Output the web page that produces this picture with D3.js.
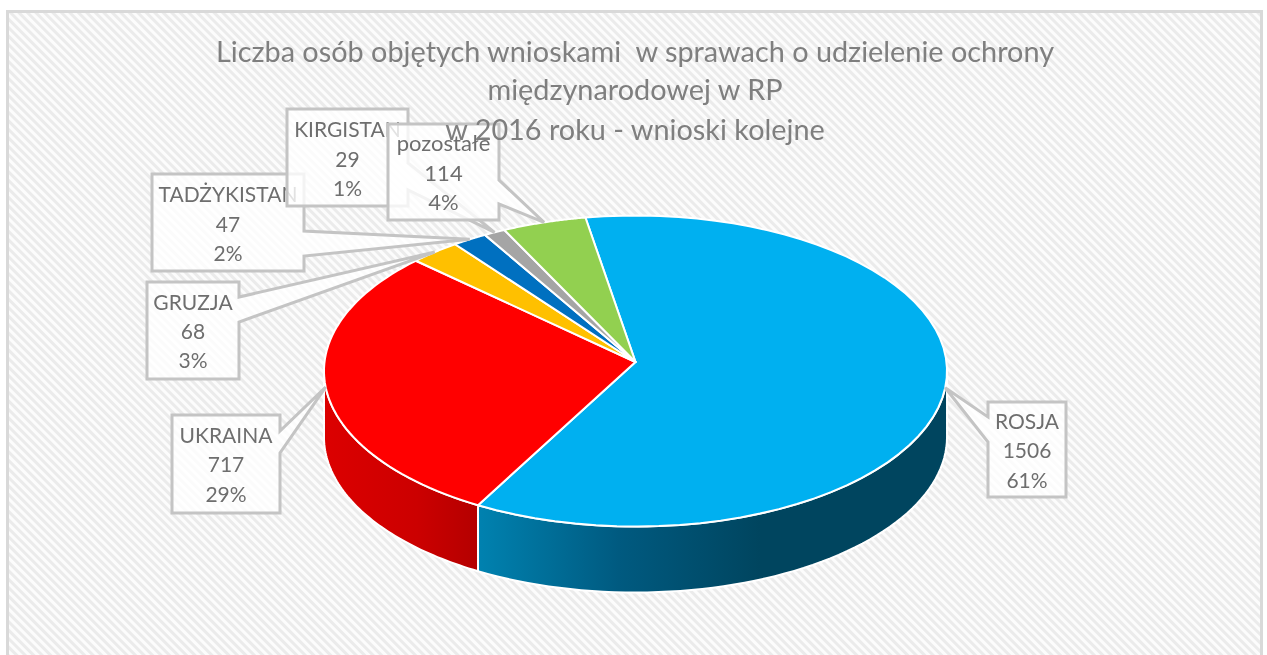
<!DOCTYPE html>
<html><head><meta charset="utf-8">
<script src="https://cdn.jsdelivr.net/npm/d3@7"></script>
<style>html,body{margin:0;padding:0;background:#fff;overflow:hidden}svg{display:block}text{font-family:Lato,"Open Sans",sans-serif}</style>
</head><body><svg id="c" width="1267" height="655"></svg>
<script>
const categories = ["ROSJA","UKRAINA","GRUZJA","TADŻYKISTAN","KIRGISTAN","pozostałe"];
const values = [1506,717,68,47,29,114];
const percents = ["61%","29%","3%","2%","1%","4%"];
const topColors = ["#00b0f0","#ff0000","#ffc000","#0070c0","#a5a5a5","#92d050"];
const titleLines = ["Liczba osób objętych wnioskami  w sprawach o udzielenie ochrony","międzynarodowej w RP","w 2016 roku - wnioski kolejne"];

const W=1267,H=655;
const svg=d3.select("#c");
const defs=svg.append("defs");
const pat=defs.append("pattern").attr("id","hatch").attr("patternUnits","userSpaceOnUse").attr("width",6).attr("height",6).attr("patternTransform","rotate(45)");
pat.append("rect").attr("width",6).attr("height",6).attr("fill","#fcfcfc");
pat.append("rect").attr("width",6).attr("height",3).attr("fill","#ebebeb");
const soft=defs.append("filter").attr("id","soft").attr("x","-5%").attr("y","-5%").attr("width","110%").attr("height","110%");
soft.append("feGaussianBlur").attr("stdDeviation",0.45);
function grad(id,stops,x1,x2){const g=defs.append("linearGradient").attr("id",id).attr("gradientUnits","userSpaceOnUse").attr("x1",x1).attr("x2",x2).attr("y1",0).attr("y2",0);
 stops.forEach(s=>g.append("stop").attr("offset",s[0]).attr("stop-color",s[1]));}
grad("wallBlue",[[0,"#0082b0"],[0.5,"#005a80"],[1,"#00455f"]],478,760);
grad("wallRed",[[0,"#dc0000"],[0.6,"#cc0000"],[1,"#b40000"]],324,478);

svg.append("rect").attr("x",7.5).attr("y",11.5).attr("width",1254).attr("height",660).attr("fill","url(#hatch)").attr("stroke","#d9d9d9").attr("stroke-width",3);

// perspective projection of the pie disc
const cx=635.5,cy=362,A=311,R=155,k=0.058,depth=66;
const proj=(a,dy=0)=>{const s=Math.sin(a),c=Math.cos(a),w=1+k*c;return [cx+A*s/w,cy-R*c/w+dy];};
const start=-9.8*Math.PI/180;
const arcs=d3.pie().sort(null).startAngle(start).endAngle(start+2*Math.PI)(values);
const line=d3.line();
const sample=(a0,a1,dy=0)=>d3.range(0,61).map(i=>proj(a0+(a1-a0)*i/60,dy));

// visible side wall: projected rightmost → leftmost limb
const limbR=Math.PI-Math.acos(k), limbL=Math.PI+Math.acos(k);
[[0,"url(#wallBlue)"],[1,"url(#wallRed)"]].forEach(([i,fill])=>{
  const a0=Math.max(arcs[i].startAngle,limbR), a1=Math.min(arcs[i].endAngle,limbL);
  const pts=sample(a0,a1).concat(sample(a1,a0,depth));
  svg.append("path").attr("d",line(pts)+"Z").attr("fill",fill).attr("stroke","#fff").attr("stroke-width",2).attr("stroke-linejoin","round");
});
svg.selectAll("path.top").data(arcs).join("path").attr("class","top")
  .attr("d",d=>line([[cx,cy]].concat(sample(d.startAngle,d.endAngle)))+"Z")
  .attr("fill",(d,i)=>topColors[i]).attr("stroke","#fff").attr("stroke-width",2).attr("stroke-linejoin","round");

// callouts: box left, top, right, bottom, wedge root positions on the side facing the slice
const boxes=[
 {x0:988,y0:402,x1:1066,y1:497,side:"l",r:[417,442],ty:[429,458,488],fs:21},
 {x0:172,y0:415,x1:280,y1:513,side:"r",r:[431,453],ty:[443,472,502],fs:21},
 {x0:147,y0:282,x1:239,y1:379,side:"r",r:[297,322],ty:[310,339,368],fs:21},
 {x0:152,y0:174,x1:304,y1:271,side:"r",r:[231,256],ty:[202,232,261],fs:21},
 {x0:287,y0:109,x1:408,y1:206,side:"r",r:[163,190],ty:[137,167,196],fs:21},
 {x0:388,y0:124,x1:499,y1:220,side:"r",r:[180,204],ty:[151,181,210],fs:22}];
boxes.forEach((b,i)=>{
  const d=arcs[i],tip=proj((d.startAngle+d.endAngle)/2);
  const pts=b.side=="r"
   ?[[b.x0,b.y0],[b.x1,b.y0],[b.x1,b.r[0]],tip,[b.x1,b.r[1]],[b.x1,b.y1],[b.x0,b.y1]]
   :[[b.x0,b.y0],[b.x1,b.y0],[b.x1,b.y1],[b.x0,b.y1],[b.x0,b.r[1]],tip,[b.x0,b.r[0]]];
  svg.append("path").attr("d",line(pts)+"Z").attr("fill","#fff").attr("fill-opacity",0.8).attr("stroke","#c4c4c4").attr("stroke-width",3);
  const g=svg.append("g").attr("fill","#6e6e6e").attr("font-size",b.fs).attr("text-anchor","middle").attr("filter","url(#soft)");
  [categories[i],values[i],percents[i]].forEach((t,j)=>g.append("text").attr("x",(b.x0+b.x1)/2).attr("y",b.ty[j]).text(t));
});

// title sits above the callouts, as in the reference
const title=svg.append("g").attr("fill","#7f7f7f").attr("text-anchor","middle").attr("font-size",28.85).attr("filter","url(#soft)");
titleLines.forEach((t,i)=>title.append("text").attr("x",635).attr("y",[62,100,140][i]).attr("xml:space","preserve").text(t));
</script></body></html>
